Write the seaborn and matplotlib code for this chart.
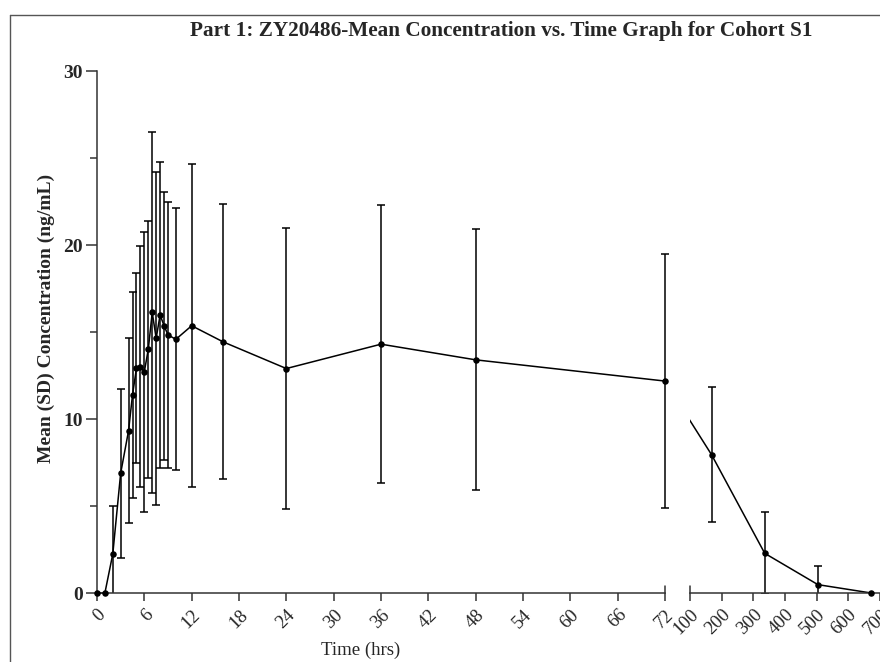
import numpy as np
import pandas as pd
import matplotlib
matplotlib.use("Agg")
import matplotlib.pyplot as plt
import seaborn as sns
from matplotlib.ticker import FixedLocator
from matplotlib.transforms import Bbox, TransformedBbox

# ---- data ----
times_early = [0, 1, 2, 3, 4, 4.5, 5, 5.5, 6, 6.5, 7, 7.5, 8, 8.5, 9, 10, 12, 16, 24, 36, 48, 72]
means_early = [0, 0, 2.24, 6.88, 9.33, 11.38, 12.91, 13.0, 12.72, 14.0, 16.13, 14.64,
               15.98, 15.36, 14.83, 14.58, 15.36, 14.43, 12.9, 14.3, 13.4, 12.18]
sd_early = [0, 0, 2.78, 4.84, 5.3, 5.93, 5.46, 6.93, 8.05, 7.37, 10.37, 9.56,
            8.77, 7.7, 7.67, 7.53, 9.27, 7.9, 8.1, 8.0, 7.5, 7.3]
times_late = [168, 336, 504, 672]
means_late = [7.95, 2.28, 0.48, 0]
sd_late = [3.89, 2.36, 1.09, 0]

xticks_left = [0, 6, 12, 18, 24, 30, 36, 42, 48, 54, 60, 66, 72]
xticks_right = [100, 200, 300, 400, 500, 600, 700]
yticks_major = [0, 10, 20, 30]
yticks_minor = [5, 15, 25]

title = "Part 1: ZY20486-Mean Concentration vs. Time Graph for Cohort S1"
ylabel = "Mean (SD) Concentration (ng/mL)"
xlabel = "Time (hrs)"

# ---- style ----
sns.set_theme(style="ticks")
plt.rcParams["font.family"] = ["Liberation Serif", "DejaVu Serif"]
plt.rcParams["axes.linewidth"] = 1.1
spine_col = "#333333"

W, H = 880, 662
fig = plt.figure(figsize=(W / 100, H / 100), dpi=100)
fig.patch.set_facecolor("white")

axL = fig.add_axes([97 / W, (H - 593) / H, (665 - 97) / W, 522 / H])
axR = fig.add_axes([690 / W, (H - 593) / H, (880 - 690) / W, 522 / H])
for ax in (axL, axR):
    ax.set_facecolor("none")
    ax.set_ylim(0, 30)
axL.set_xlim(0, 72)
axR.set_xlim(100, 700)

lw = 1.1
df_e = pd.DataFrame({"t": times_early, "m": means_early, "sd": sd_early})
df_l = pd.DataFrame({"t": times_late, "m": means_late, "sd": sd_late})


def draw_errorbars(ax, d):
    mask = d["sd"] > 0
    cont = ax.errorbar(d.loc[mask, "t"], d.loc[mask, "m"], yerr=d.loc[mask, "sd"],
                       fmt="none", ecolor="black", elinewidth=lw, capsize=2.6, capthick=lw)
    # clip only below the x axis (let bars at the axis ends show fully)
    cbox = TransformedBbox(Bbox([[-0.1, 0.0], [1.1, 1.1]]), ax.transAxes)
    for art in list(cont.lines[1]) + list(cont.lines[2]):
        art.set_clip_on(True)
        art.set_clip_box(cbox)
        art.set_clip_path(None)


# left segment
sns.lineplot(data=df_e, x="t", y="m", ax=axL, color="black", lw=lw,
             sort=False, estimator=None, clip_on=False)
sns.scatterplot(data=df_e, x="t", y="m", ax=axL, color="black", s=22,
                edgecolor="black", linewidth=0, clip_on=False, zorder=5)
draw_errorbars(axL, df_e)

# bridge line from last early point to first late point (screen space, clipped at the break)
fig.canvas.draw()
p_disp = axL.transData.transform((times_early[-1], means_early[-1]))
x_bridge, y_bridge = axR.transData.inverted().transform(p_disp)
df_bridge = pd.DataFrame({"t": [x_bridge] + times_late, "m": [y_bridge] + means_late})
sns.lineplot(data=df_bridge, x="t", y="m", ax=axR, color="black", lw=lw,
             sort=False, estimator=None)
sns.scatterplot(data=df_l, x="t", y="m", ax=axR, color="black", s=22,
                edgecolor="black", linewidth=0, clip_on=False, zorder=5)
draw_errorbars(axR, df_l)

# spines / ticks
for ax in (axL, axR):
    ax.spines["top"].set_visible(False)
    ax.spines["right"].set_visible(False)
    ax.spines["bottom"].set_color(spine_col)
    ax.set_xlabel("")
    ax.set_ylabel("")
axL.spines["left"].set_color(spine_col)
axR.spines["left"].set_visible(False)
axR.tick_params(axis="y", left=False, labelleft=False)

axL.xaxis.set_major_locator(FixedLocator(xticks_left))
axL.set_xticklabels([str(v) for v in xticks_left], rotation=45, ha="right",
                    va="top", rotation_mode="anchor", fontsize=13.5)
axR.xaxis.set_major_locator(FixedLocator(xticks_right))
axR.set_xticklabels([str(v) for v in xticks_right], rotation=45, ha="right",
                    va="top", rotation_mode="anchor", fontsize=13.5)
for ax in (axL, axR):
    ax.tick_params(axis="x", direction="out", length=5.5, width=1.1, color=spine_col, pad=4)

axL.yaxis.set_major_locator(FixedLocator(yticks_major))
axL.yaxis.set_minor_locator(FixedLocator(yticks_minor))
axL.set_yticklabels([str(v) for v in yticks_major], fontsize=14, fontweight="bold")
axL.tick_params(axis="y", which="major", direction="out", length=8, width=1.1, color=spine_col, pad=2)
axL.tick_params(axis="y", which="minor", direction="out", length=5, width=1.1, color=spine_col)

# axis-break marks
axL.axvline(72, ymin=0, ymax=0.013, color=spine_col, lw=1.1, clip_on=False)
axR.axvline(100, ymin=0, ymax=0.013, color=spine_col, lw=1.1, clip_on=False)

# texts
fig.text(501 / W, 1 - 31 / H, title, ha="center", va="center",
         fontsize=15.3, fontweight="bold")
fig.text(46 / W, 1 - 318 / H, ylabel, ha="center", va="center", rotation=90,
         fontsize=14, fontweight="bold")
fig.text(361 / W, 1 - 650 / H, xlabel, ha="center", va="center", fontsize=13.5)

# outer frame (left and top edges)
fig.add_artist(plt.Line2D([10 / W, 10 / W], [0, 1 - 15 / H], transform=fig.transFigure,
                          color="#555555", lw=1.0))
fig.add_artist(plt.Line2D([10 / W, 1], [1 - 15 / H, 1 - 15 / H], transform=fig.transFigure,
                          color="#555555", lw=1.0))

fig.savefig("out.png", dpi=100, facecolor="white")
